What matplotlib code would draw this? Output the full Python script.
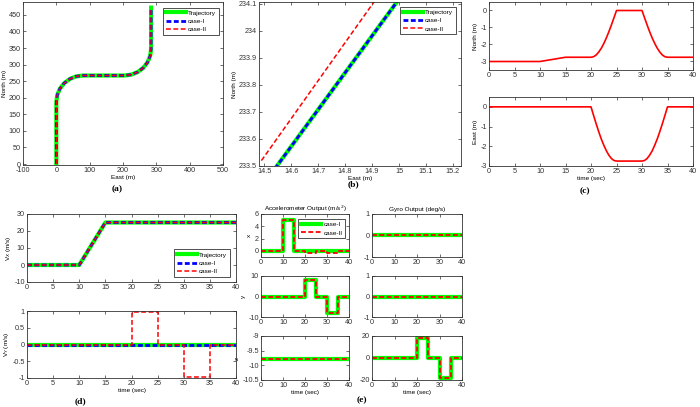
# coding=utf-8
# INS simulation results: trajectory, position error, velocity, IMU outputs

import matplotlib.pyplot as plt

plt.rcParams['font.family'] = ['Liberation Sans', 'DejaVu Sans']
plt.rcParams['axes.unicode_minus'] = False
plt.rcParams['lines.scale_dashes'] = False

# ---- data ----
# (a) trajectory, east / north (m)
traj_east = [0, 0, 2.7, 10.7, 23.3, 39.8, 59.0, 79.6, 204.6, 225.2, 244.4, 260.9, 273.5, 281.5, 284.2, 284.2]
traj_north = [0, 187.5, 208.1, 227.3, 243.8, 256.4, 264.4, 267.1, 267.1, 269.8, 277.8, 290.4, 306.9, 326.1, 346.7, 472.0]

# (b) zoomed part of the first turn
zoom_east_ref = [14.54, 14.995]
zoom_north_ref = [233.49, 234.11]
zoom_east_c2 = [14.49, 14.91]
zoom_north_c2 = [233.52, 234.11]

# (c) position difference (m)
err_t = [0, 10, 15, 20, 20.5, 21, 21.5, 22, 22.5, 23, 23.5, 24, 24.5, 25,
         30, 30.5, 31, 31.5, 32, 32.5, 33, 33.5, 34, 34.5, 35, 40]
err_north = [-3, -3, -2.75, -2.75, -2.72, -2.62, -2.45, -2.23, -1.95, -1.62, -1.25, -0.85, -0.43, 0,
             0, -0.43, -0.85, -1.25, -1.62, -1.94, -2.22, -2.45, -2.62, -2.72, -2.75, -2.75]
err_east = [0, 0, 0, 0, -0.43, -0.85, -1.25, -1.62, -1.94, -2.22, -2.45, -2.62, -2.72, -2.75,
            -2.75, -2.72, -2.62, -2.45, -2.23, -1.94, -1.62, -1.25, -0.85, -0.43, 0, 0]

# (d) body velocities (m/s)
vx_t = [0, 10, 15, 40]
vx = [0, 0, 25, 25]
vy_t = [0, 20, 20, 25, 25, 30, 30, 35, 35, 40]
vy_ref = [0, 0, 0, 0, 0, 0, 0, 0, 0, 0]
vy_c2 = [0, 0, 0.96, 0.96, 0, 0, -0.96, -0.96, 0, 0]

# (e) IMU outputs
step_t = [0, 10, 10, 15, 15, 20, 20, 25, 25, 30, 30, 35, 35, 40]
acc_x_c1 = [0, 0, 5, 5, 0, 0, 0, 0, 0, 0, 0, 0, 0, 0]
acc_x_c2 = [0, 0, 5, 5, 0, 0, -0.3, -0.3, 0, 0, -0.3, -0.3, 0, 0]
acc_y = [0, 0, 0, 0, 0, 0, 7.85, 7.85, 0, 0, -7.85, -7.85, 0, 0]
acc_z = [-9.8] * 14
gyro_x = [0] * 14
gyro_y = [0] * 14
gyro_z = [0, 0, 0, 0, 0, 0, 18, 18, 0, 0, -18, -18, 0, 0]

# ---- figure ----
W, H = 700, 407
fig = plt.figure(figsize=(W / 100, H / 100), dpi=100)

GREEN, BLUE, RED = '#00ff00', '#0000ff', '#ff0000'
DASH = (0, (3.5, 1.8))
TICK_FS = 5.2
LAB_FS = 4.6


def add_ax(l, t, r, b):
    ax = fig.add_axes([l / W, 1 - b / H, (r - l) / W, (b - t) / H])
    ax.tick_params(direction='in', top=True, right=True, length=2, width=0.5,
                   labelsize=TICK_FS, colors='#333333', pad=1.5)
    for s in ax.spines.values():
        s.set_linewidth(0.6)
        s.set_color('#333333')
    return ax


def three_lines(ax, x, y1, y2, y3):
    ax.plot(x[0], y1, color=GREEN, lw=3, label='Trajectory')
    ax.plot(x[1], y2, color=BLUE, lw=2, linestyle=DASH, label='case-I')
    ax.plot(x[2], y3, color=RED, lw=1.1, linestyle=DASH, label='case-II')


def legend(ax, loc, anchor):
    lg = ax.legend(loc=loc, bbox_to_anchor=anchor, fontsize=LAB_FS, handlelength=3.2,
                   handletextpad=0.3, borderpad=0.4, labelspacing=0.45, fancybox=False,
                   framealpha=1, edgecolor='#333333')
    lg.get_frame().set_linewidth(0.6)


def panel_label(x, y, s):
    fig.text(x / W, 1 - y / H, s, ha='center', va='center', fontsize=6.8,
             fontweight='bold', family='Liberation Serif')


# (a)
ax = add_ax(23, 2, 223, 165)
three_lines(ax, [traj_east] * 3, traj_north, traj_north, traj_north)
ax.set_xlim(-100, 500)
ax.set_ylim(-3, 489)
ax.set_xticks(range(-100, 501, 100))
ax.set_yticks(range(0, 451, 50))
ax.set_xlabel('East (m)', fontsize=LAB_FS, labelpad=1)
ax.set_ylabel('North (m)', fontsize=LAB_FS, labelpad=1)
legend(ax, 'upper right', (0.995, 0.985))
panel_label(117, 189, '(a)')

# (b)
ax = add_ax(259, 2, 461, 166)
three_lines(ax, [zoom_east_ref, zoom_east_ref, zoom_east_c2],
            zoom_north_ref, zoom_north_ref, zoom_north_c2)
ax.set_xlim(14.481, 15.23)
ax.set_ylim(233.5, 234.106)
xt = [14.5, 14.6, 14.7, 14.8, 14.9, 15.0, 15.1, 15.2]
ax.set_xticks(xt, ['%g' % v for v in xt])
yt = [233.5, 233.6, 233.7, 233.8, 233.9, 234.0, 234.1]
ax.set_yticks(yt, ['%g' % v for v in yt])
ax.set_xlabel('East (m)', fontsize=LAB_FS, labelpad=1)
ax.set_ylabel('North (m)', fontsize=LAB_FS, labelpad=1)
legend(ax, 'upper right', (0.99, 0.99))
panel_label(353, 184, '(b)')

# (c)
ax = add_ax(489, 2, 693, 70)
ax.plot(err_t, err_north, color=RED, lw=1.2)
ax.set_xlim(0, 40)
ax.set_ylim(-3.5, 0.5)
ax.set_xticks(range(0, 41, 5))
ax.set_yticks([-3, -2, -1, 0])
ax.set_ylabel('North (m)', fontsize=LAB_FS, labelpad=2)

ax = add_ax(489, 97, 693, 166)
ax.plot(err_t, err_east, color=RED, lw=1.2)
ax.set_xlim(0, 40)
ax.set_ylim(-3, 0.5)
ax.set_xticks(range(0, 41, 5))
ax.set_yticks([-3, -2, -1, 0])
ax.set_ylabel('East (m)', fontsize=LAB_FS, labelpad=2)
ax.set_xlabel('time (sec)', fontsize=LAB_FS, labelpad=1)
panel_label(585, 191, '(c)')

# (d)
ax = add_ax(27, 214, 236, 282)
three_lines(ax, [vx_t] * 3, vx, vx, vx)
ax.set_xlim(0, 40)
ax.set_ylim(-10, 30)
ax.set_xticks(range(0, 41, 5))
ax.set_yticks(range(-10, 31, 10))
ax.set_ylabel('V$_X$ (m/s)', fontsize=LAB_FS, labelpad=1)
legend(ax, 'lower right', (0.985, 0.03))

ax = add_ax(27, 311, 236, 378)
three_lines(ax, [vy_t] * 3, vy_ref, vy_ref, vy_c2)
ax.set_xlim(0, 40)
ax.set_ylim(-1, 1)
ax.set_xticks(range(0, 41, 5))
ax.set_yticks([-1, -0.5, 0, 0.5, 1], ['-1', '-0.5', '0', '0.5', '1'])
ax.set_ylabel('V$_Y$ (m/s)', fontsize=LAB_FS, labelpad=1)
ax.set_xlabel('time (sec)', fontsize=LAB_FS, labelpad=1)
panel_label(80, 401, '(d)')

# (e)
rows = [(214, 257), (276, 317), (336, 380)]
acc = [(acc_x_c1, acc_x_c2, (-1, 6), [0, 2, 4, 6], 'x'),
       (acc_y, acc_y, (-10, 10), [-10, 0, 10], 'y'),
       (acc_z, acc_z, (-10.5, -9), [-10.5, -10, -9.5, -9], 'z')]
gyro = [(gyro_x, (-1, 1), [-1, 0, 1]),
        (gyro_y, (-1, 1), [-1, 0, 1]),
        (gyro_z, (-20, 20), [-20, 0, 20])]

for i, (t, b) in enumerate(rows):
    c1, c2, lim, ticks, name = acc[i]
    ax = add_ax(261, t, 349, b)
    ax.plot(step_t, c1, color=GREEN, lw=3, label='case-I')
    ax.plot(step_t, c2, color=RED, lw=1.3, linestyle=DASH, label='case-II')
    ax.set_xlim(0, 40)
    ax.set_ylim(*lim)
    ax.set_xticks(range(0, 41, 10))
    ax.set_yticks(ticks, ['%g' % v for v in ticks])
    ax.set_ylabel(name, fontsize=LAB_FS, labelpad=2)
    if i == 0:
        ax.set_title('Accelerometer Output (m/s$^2$)', fontsize=LAB_FS, pad=2)
        legend(ax, 'upper right', (0.99, 0.95))
    if i == 2:
        ax.set_xlabel('time (sec)', fontsize=LAB_FS, labelpad=1)

    g, glim, gticks = gyro[i]
    ax = add_ax(372, t, 462, b)
    ax.plot(step_t, g, color=GREEN, lw=3)
    ax.plot(step_t, g, color=RED, lw=1.3, linestyle=DASH)
    ax.set_xlim(0, 40)
    ax.set_ylim(*glim)
    ax.set_xticks(range(0, 41, 10))
    ax.set_yticks(gticks)
    if i == 0:
        ax.set_title('Gyro Output (deg/s)', fontsize=LAB_FS, pad=2)
    if i == 2:
        ax.set_xlabel('time (sec)', fontsize=LAB_FS, labelpad=1)

panel_label(362, 400, '(e)')

fig.savefig('out.png', dpi=100)
